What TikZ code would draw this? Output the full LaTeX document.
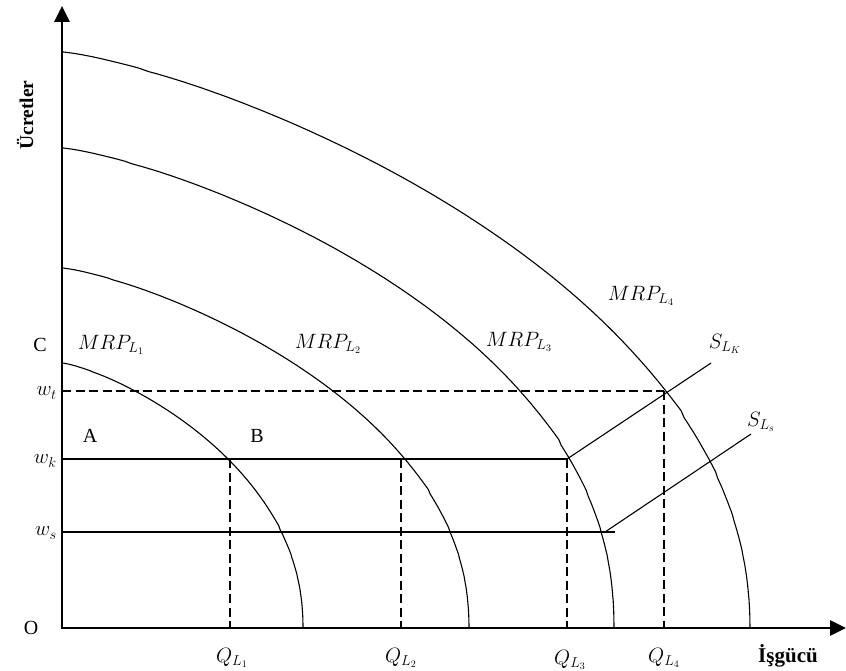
\documentclass[tikz,border=0pt]{standalone}
\usepackage{fontspec}
\setmainfont{Liberation Serif}
\usetikzlibrary{arrows.meta}

\begin{document}
\begin{tikzpicture}[x=1pt,y=-1pt,
  axis/.style={line width=2.8pt,{Triangle[width=15pt,length=16pt]}-{Triangle[width=15pt,length=16pt]}},
  mrp/.style={line width=1.1pt},
  level/.style={line width=1.1pt},
  guide/.style={line width=2.2pt,dash pattern=on 9pt off 4.5pt},
  lbl/.style={font=\fontsize{20}{22}\selectfont,inner sep=1pt},
  axlbl/.style={font=\fontsize{19.5}{22}\selectfont\bfseries,inner sep=1pt},
]
\useasboundingbox (0,0) rectangle (846,671);

% Key points
\coordinate (O)    at (62,628);
\coordinate (ytop) at (62,6);
\coordinate (xend) at (846,628);
\coordinate (wt)   at (62,391);
\coordinate (wk)   at (62,459);
\coordinate (ws)   at (62,532);
\coordinate (E1)   at (230,459);
\coordinate (E2)   at (401,459);
\coordinate (E3)   at (567,459);
\coordinate (E4)   at (664,391);
\coordinate (Es)   at (605,532);
\coordinate (wsend) at (615,532);
\coordinate (SKend) at (711,363);
\coordinate (SSend) at (751,434);

% MRP curves: width / height / bend
\foreach \wx/\hy/\ex in {241/265/0.47, 407/360/0.47, 552/480/0.46, 688/576/0.48}
  \draw[mrp] (62,{628-\hy}) -- plot[domain=0.001:0.99,samples=140,variable=\t]
    ({62+\wx*(1-(1-\t)^2)},{628-\hy*((1-(1-(1-\t)^2)^1.3)^\ex)})
    -- ({62+\wx},628);

% Wage levels
\draw[guide] (wt) -- (E4);
\draw[level] (wk) -- (E3);
\draw[level] (ws) -- (wsend);

% Supply curves
\draw[level] (E3) -- (SKend);
\draw[level] (Es) -- (SSend);

% Quantities
\draw[guide] (E1) -- (E1 |- O);
\draw[guide] (E2) -- (E2 |- O);
\draw[guide] (E3) -- (E3 |- O);
\draw[guide] (E4) -- (E4 |- O);

% Axes
\draw[axis] (ytop) -- (O) -- (xend);

% Labels
\node[axlbl,rotate=90] (ucret) at (25,115) {Ücretler};
\node[axlbl,font=\fontsize{21}{23}\selectfont\bfseries] (isgucu) at (788,656) {İşgücü};
\node[lbl] (lO) at (31,628) {O};
\node[lbl] (lC) at (40,345) {C};
\node[lbl] (lA) at (90,436) {A};
\node[lbl] (lB) at (257,436) {B};
\node[lbl,anchor=east] (lwt) at (58,393) {$w_t$};
\node[lbl,anchor=east] (lwk) at (58,461) {$w_k$};
\node[lbl,anchor=east] (lws) at (58,533) {$w_s$};
\node[lbl] (m1) at (111,345) {$MRP_{L_1}$};
\node[lbl] (m2) at (328,344) {$MRP_{L_2}$};
\node[lbl] (m3) at (519,342) {$MRP_{L_3}$};
\node[lbl] (m4) at (641,296) {$MRP_{L_4}$};
\node[lbl] (sk) at (725,344) {$S_{L_K}$};
\node[lbl] (ss) at (761,422) {$S_{L_s}$};
\node[lbl] (q1) at (232,658) {$Q_{L_1}$};
\node[lbl] (q2) at (401,658) {$Q_{L_2}$};
\node[lbl] (q3) at (570,660) {$Q_{L_3}$};
\node[lbl] (q4) at (664,658) {$Q_{L_4}$};
\end{tikzpicture}
\end{document}
